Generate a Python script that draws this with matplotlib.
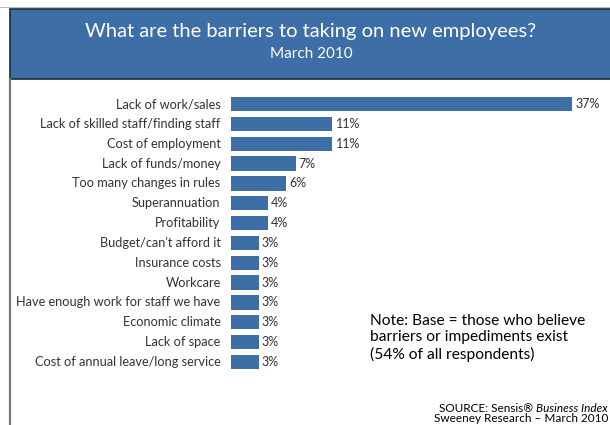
import matplotlib
matplotlib.use("Agg")
import matplotlib.pyplot as plt
from matplotlib.patches import Rectangle
from matplotlib.lines import Line2D

categories = [
    "Lack of work/sales",
    "Lack of skilled staff/finding staff",
    "Cost of employment",
    "Lack of funds/money",
    "Too many changes in rules",
    "Superannuation",
    "Profitability",
    "Budget/can't afford it",
    "Insurance costs",
    "Workcare",
    "Have enough work for staff we have",
    "Economic climate",
    "Lack of space",
    "Cost of annual leave/long service",
]
values = [37, 11, 11, 7, 6, 4, 4, 3, 3, 3, 3, 3, 3, 3]
value_labels = ["37%", "11%", "11%", "7%", "6%", "4%", "4%", "3%", "3%", "3%", "3%", "3%", "3%", "3%"]

title = "What are the barriers to taking on new employees?"
subtitle = "March 2010"
note = "Note: Base = those who believe\nbarriers or impediments exist\n(54% of all respondents)"

FONT = ["Lato", "DejaVu Sans"]
plt.rcParams['font.family'] = FONT

W, H = 610, 425
fig = plt.figure(figsize=(W / 100, H / 100), dpi=100)
fig.patch.set_facecolor("white")

BLUE = "#3d6fa6"
TXT = "#333333"

def fx(px):
    return px / W

def fy(py):
    return 1 - py / H

# header box
fig.patches.append(Rectangle((fx(10), fy(79)), fx(620) - fx(10), fy(9) - fy(79),
                             transform=fig.transFigure, facecolor=BLUE,
                             edgecolor="#1a2a3a", linewidth=1.2, zorder=1))
fig.lines.append(Line2D([fx(0), fx(610)], [fy(6.5), fy(6.5)], transform=fig.transFigure,
                        color="#bbbbbb", linewidth=0.8))
fig.lines.append(Line2D([fx(10), fx(10)], [fy(79), fy(425)], transform=fig.transFigure,
                        color="#777777", linewidth=1.6))

fig.text(fx(311), fy(31), title, ha="center", va="center", color="white", fontsize=14.5)
fig.text(fx(311), fy(54), subtitle, ha="center", va="center", color="white", fontsize=11)

ppu = 341 / 37
left_px = 231
xmax = 40
ax_w = xmax * ppu
top_px, bot_px = 94.1, 371.9
ax = fig.add_axes([fx(left_px), fy(bot_px), ax_w / W, (bot_px - top_px) / H])
ax.set_xlim(0, xmax)
n = len(categories)
ax.set_ylim(n - 0.5, -0.5)
ax.axis("off")

ypos = list(range(n))
ax.barh(ypos, values, height=0.72, color=BLUE, edgecolor="none")
for y, v, lab, cat in zip(ypos, values, value_labels, categories):
    ax.text(v + 0.35, y, lab, ha="left", va="center", color=TXT, fontsize=9)
    ax.annotate(cat, xy=(0, y), xycoords="data", xytext=(-7.5, 0), textcoords="offset points",
                ha="right", va="center", color=TXT, fontsize=9.2)

fig.text(fx(370), fy(314), note, ha="left", va="top", color="black", fontsize=11.2,
         linespacing=1.2)

src = fig.text(fx(608), fy(409), "Business Index", ha="right", va="center", color="black",
               fontsize=8.5, style="italic")
fig.canvas.draw()
bb = src.get_window_extent()
fig.text(bb.x0 / W, fy(409), "SOURCE: Sensis\u00ae ", ha="right", va="center", color="black",
         fontsize=8.5)
fig.text(fx(608), fy(419), "Sweeney Research \u2013 March 2010", ha="right", va="center",
         color="black", fontsize=8.5)

fig.savefig("out.png", dpi=100)
